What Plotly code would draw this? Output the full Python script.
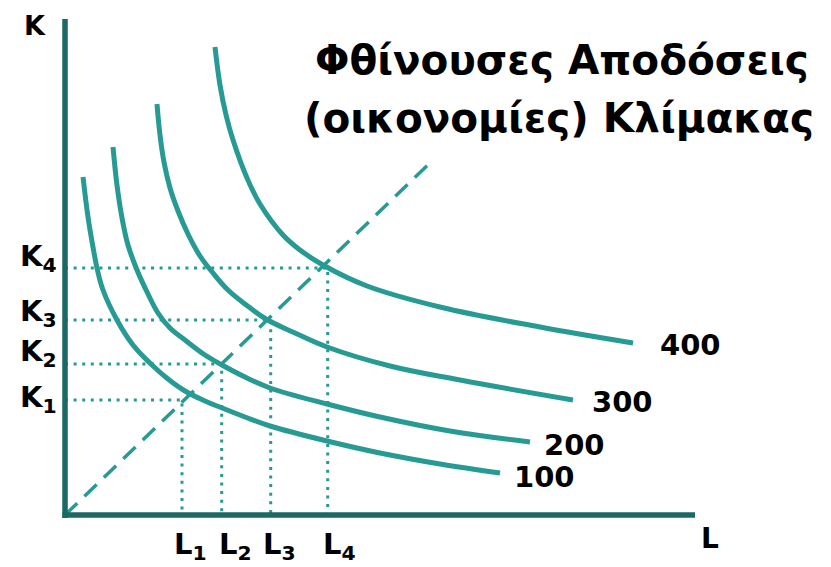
import plotly.graph_objects as go

# ---------------- data ----------------
# isoquant curves (L, K)
q100_L = [0.286, 0.365, 0.444, 0.508, 0.603, 0.825, 1.079, 1.381, 1.635, 1.905, 2.222, 2.492, 2.857, 3.254, 4.159, 5.000, 5.952, 6.905]
q100_K = [6.76, 5.96, 5.36, 4.94, 4.50, 3.90, 3.40, 3.00, 2.72, 2.48, 2.28, 2.14, 1.96, 1.78, 1.48, 1.24, 1.02, 0.84]

q200_L = [0.762, 0.825, 0.905, 1.000, 1.143, 1.302, 1.476, 1.667, 1.905, 2.222, 2.492, 2.857, 3.254, 4.159, 5.000, 6.111, 7.381]
q200_K = [7.36, 6.60, 5.94, 5.40, 4.90, 4.46, 4.04, 3.74, 3.50, 3.20, 3.00, 2.76, 2.54, 2.22, 1.96, 1.68, 1.46]

q300_L = [1.460, 1.508, 1.571, 1.667, 1.794, 1.952, 2.143, 2.349, 2.587, 2.857, 3.190, 3.651, 4.159, 5.159, 6.270, 8.063]
q300_K = [8.22, 7.60, 7.06, 6.54, 6.08, 5.62, 5.18, 4.84, 4.50, 4.22, 3.92, 3.64, 3.36, 2.98, 2.70, 2.30]

q400_L = [2.381, 2.460, 2.556, 2.667, 2.889, 3.095, 3.460, 3.730, 4.095, 4.794, 5.952, 7.540, 9.016]
q400_K = [9.36, 8.60, 8.00, 7.50, 6.74, 6.22, 5.60, 5.30, 5.00, 4.58, 4.16, 3.76, 3.44]

level_labels = ["100", "200", "300", "400"]

# expansion path (ray from the origin)
ray_L = [0.0, 5.841]
ray_K = [0.0, 7.10]

# input combinations marked on the axes
L_vals = [1.857, 2.487, 3.265, 4.170]
K_vals = [2.30, 3.02, 3.90, 4.94]
L_labels = ["L<sub>1</sub>", "L<sub>2</sub>", "L<sub>3</sub>", "L<sub>4</sub>"]
K_labels = ["K<sub>1</sub>", "K<sub>2</sub>", "K<sub>3</sub>", "K<sub>4</sub>"]

title_lines = ["Φθίνουσες Αποδόσεις", "(οικονομίες) Κλίμακας"]
x_name, y_name = "L", "K"

# ---------------- style ----------------
OFF = 8                      # default page margin of the html body
W, H = 831 - OFF, 567 - OFF  # figure size so that it fits the window
CURVE = "#279a93"
AXIS = "#1b6865"
FONT = "DejaVu Sans"


def fx(px):
    return (px - OFF) / W


def fy(py):
    return 1 - (py - OFF) / H


fig = go.Figure()

# dotted guide lines
for Lv, Kv in zip(L_vals, K_vals):
    fig.add_trace(go.Scatter(x=[0, Lv, Lv], y=[Kv, Kv, 0], mode="lines",
                             line=dict(color=CURVE, width=3, dash="3px,5.6px"),
                             hoverinfo="skip", showlegend=False))

# dashed expansion path
fig.add_trace(go.Scatter(x=ray_L, y=ray_K, mode="lines",
                         line=dict(color=CURVE, width=3.5, dash="17px,10px"),
                         hoverinfo="skip", showlegend=False))

# isoquants
for xs, ys in [(q100_L, q100_K), (q200_L, q200_K), (q300_L, q300_K), (q400_L, q400_K)]:
    fig.add_trace(go.Scatter(x=xs, y=ys, mode="lines",
                             line=dict(color=CURVE, width=5, shape="spline", smoothing=1.1),
                             hoverinfo="skip", showlegend=False))

# axes drawn as lines
fig.add_shape(type="line", x0=0, y0=-0.06, x1=0, y1=9.92, line=dict(color=AXIS, width=5.5), layer="above")
fig.add_shape(type="line", x0=-0.04, y0=0, x1=10.0, y1=0, line=dict(color=AXIS, width=5.5), layer="above")

ann = []


def bold(s):
    return "<b>" + s + "</b>"


def label(text, px, py, size, xanchor="left"):
    ann.append(dict(x=fx(px), y=fy(py), text=bold(text), xref="paper", yref="paper",
                    xanchor=xanchor, yanchor="middle", showarrow=False,
                    font=dict(family=FONT, size=size, color="black")))


# title
label(title_lines[0], 562, 60, 40.5, "center")
label(title_lines[1], 559, 118, 40.5, "center")

# axis names
label(y_name, 35, 26, 27, "center")
label(x_name, 710, 538, 28, "center")

# level labels
for t, (px, py) in zip(level_labels, [(512, 477), (542, 445), (590, 402), (658, 345)]):
    label(t, px, py, 29)

# K labels
for t, py in zip(K_labels, [398, 352, 312, 257]):
    label(t, 18, py + 1, 29)

# L labels
for t, px in zip(L_labels, [172, 217, 261, 321]):
    label(t, px, 546, 29)

fig.update_layout(
    width=W, height=H, autosize=False,
    margin=dict(l=0, r=0, t=0, b=0),
    paper_bgcolor="white", plot_bgcolor="white",
    xaxis=dict(range=[(OFF - 65) / 63, (831 - 65) / 63], visible=False, fixedrange=True),
    yaxis=dict(range=[(515 - 567) / 50, (515 - OFF) / 50], visible=False, fixedrange=True),
    annotations=ann,
    showlegend=False,
)

fig.write_html("out.html")
